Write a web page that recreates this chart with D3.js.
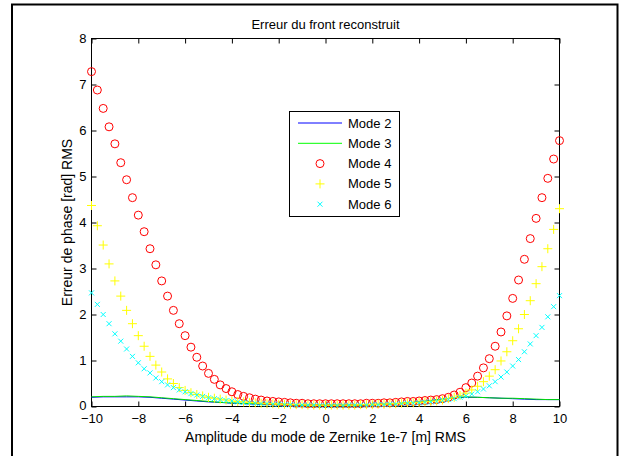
<!DOCTYPE html>
<html>
<head>
<meta charset="utf-8">
<script src="https://cdn.jsdelivr.net/npm/d3@7"></script>
<style>
  body { margin: 0; background: #fff; }
  svg { display: block; font-family: "Liberation Sans", Arial, sans-serif; }
</style>
</head>
<body>
<script>
// Amplitudes (markers, step 0.25)
const xMarks = [
  -10, -9.75, -9.5, -9.25, -9, -8.75, -8.5, -8.25, -8, -7.75, -7.5, -7.25, -7, -6.75, -6.5, -6.25,
  -6, -5.75, -5.5, -5.25, -5, -4.75, -4.5, -4.25, -4, -3.75, -3.5, -3.25, -3, -2.75, -2.5, -2.25,
  -2, -1.75, -1.5, -1.25, -1, -0.75, -0.5, -0.25, 0, 0.25, 0.5, 0.75, 1, 1.25, 1.5, 1.75,
  2, 2.25, 2.5, 2.75, 3, 3.25, 3.5, 3.75, 4, 4.25, 4.5, 4.75, 5, 5.25, 5.5, 5.75,
  6, 6.25, 6.5, 6.75, 7, 7.25, 7.5, 7.75, 8, 8.25, 8.5, 8.75, 9, 9.25, 9.5, 9.75, 10
];

// Amplitudes (lines, step 0.5)
const xLines = [
  -10, -9.5, -9, -8.5, -8, -7.5, -7, -6.5, -6, -5.5, -5, -4.5, -4, -3.5, -3, -2.5, -2, -1.5, -1, -0.5,
  0, 0.5, 1, 1.5, 2, 2.5, 3, 3.5, 4, 4.5, 5, 5.5, 6, 6.5, 7, 7.5, 8, 8.5, 9, 9.5, 10
];

const mode2 = [
  0.20, 0.21, 0.21, 0.21, 0.21, 0.20, 0.18, 0.16, 0.14, 0.12, 0.10, 0.09, 0.07, 0.06, 0.05, 0.05, 0.04, 0.03, 0.03, 0.03,
  0.03, 0.03, 0.03, 0.03, 0.04, 0.05, 0.06, 0.08, 0.10, 0.13, 0.16, 0.19, 0.20, 0.20, 0.19, 0.18, 0.17, 0.16, 0.15, 0.15, 0.15
];

const mode3 = [
  0.21, 0.22, 0.22, 0.23, 0.22, 0.21, 0.19, 0.17, 0.15, 0.13, 0.11, 0.09, 0.08, 0.07, 0.06, 0.05, 0.04, 0.04, 0.03, 0.03,
  0.03, 0.03, 0.03, 0.03, 0.04, 0.05, 0.06, 0.08, 0.10, 0.13, 0.16, 0.19, 0.21, 0.20, 0.19, 0.18, 0.18, 0.17, 0.16, 0.15, 0.15
];

const mode4 = [
  7.28, 6.88, 6.48, 6.08, 5.71, 5.30, 4.93, 4.54, 4.16, 3.80, 3.43, 3.08, 2.73, 2.40, 2.09, 1.80,
  1.54, 1.29, 1.07, 0.88, 0.72, 0.59, 0.47, 0.39, 0.32, 0.26, 0.22, 0.19, 0.16, 0.14, 0.12, 0.11,
  0.10, 0.09, 0.08, 0.07, 0.07, 0.06, 0.06, 0.06, 0.06, 0.06, 0.06, 0.06, 0.06, 0.06, 0.06, 0.07,
  0.07, 0.07, 0.08, 0.08, 0.09, 0.10, 0.11, 0.11, 0.12, 0.13, 0.14, 0.15, 0.17, 0.20, 0.25, 0.31,
  0.41, 0.51, 0.66, 0.84, 1.04, 1.31, 1.62, 1.97, 2.35, 2.75, 3.20, 3.65, 4.09, 4.54, 4.96, 5.38, 5.78
];

const mode5 = [
  4.37, 3.93, 3.51, 3.10, 2.73, 2.40, 2.09, 1.80, 1.54, 1.31, 1.09, 0.90, 0.75, 0.60, 0.50, 0.41,
  0.35, 0.30, 0.26, 0.23, 0.20, 0.18, 0.16, 0.14, 0.12, 0.11, 0.10, 0.09, 0.08, 0.07, 0.06, 0.06,
  0.05, 0.05, 0.04, 0.04, 0.04, 0.03, 0.03, 0.03, 0.03, 0.03, 0.03, 0.03, 0.03, 0.03, 0.04, 0.04,
  0.04, 0.05, 0.05, 0.06, 0.06, 0.07, 0.08, 0.08, 0.09, 0.10, 0.11, 0.12, 0.14, 0.17, 0.20, 0.24,
  0.29, 0.36, 0.44, 0.54, 0.66, 0.80, 0.99, 1.19, 1.43, 1.69, 2.00, 2.30, 2.67, 3.04, 3.43, 3.85, 4.30
];

const mode6 = [
  2.47, 2.22, 2.00, 1.80, 1.58, 1.42, 1.25, 1.09, 0.95, 0.82, 0.73, 0.62, 0.54, 0.47, 0.41, 0.36,
  0.32, 0.28, 0.25, 0.22, 0.19, 0.17, 0.15, 0.13, 0.12, 0.10, 0.09, 0.08, 0.07, 0.06, 0.06, 0.05,
  0.05, 0.04, 0.04, 0.03, 0.03, 0.03, 0.03, 0.02, 0.02, 0.02, 0.02, 0.02, 0.03, 0.03, 0.03, 0.03,
  0.04, 0.04, 0.04, 0.05, 0.05, 0.06, 0.07, 0.07, 0.08, 0.09, 0.10, 0.11, 0.13, 0.15, 0.17, 0.20,
  0.23, 0.27, 0.32, 0.38, 0.45, 0.54, 0.64, 0.75, 0.88, 1.02, 1.19, 1.36, 1.54, 1.72, 1.95, 2.17, 2.41
];

const xTicks = [-10, -8, -6, -4, -2, 0, 2, 4, 6, 8, 10];
const yTicks = [0, 1, 2, 3, 4, 5, 6, 7, 8];
const legendLabels = ["Mode 2", "Mode 3", "Mode 4", "Mode 5", "Mode 6"];

//     Parameters
const w = 620;
const h = 456;
const plotLeft = 91.5, plotRight = 559.5, plotTop = 38.5, plotBottom = 406.5;

const svg = d3.select("body").append("svg").attr("width", w).attr("height", h);

//     Figure frame
svg.append("rect")
  .attr("x", 12).attr("y", 4.5)
  .attr("width", 605.5).attr("height", 470)
  .attr("fill", "none").attr("stroke", "#000").attr("stroke-width", 2);

//     Scales
const scaleX = d3.scaleLinear().domain([-10, 10]).range([plotLeft, plotRight]);
const scaleY = d3.scaleLinear().domain([0, 8]).range([plotBottom, plotTop]);

//     Axes (inside ticks on all sides)
const axisStyle = (g) => {
  g.select(".domain").remove();
  g.selectAll("line").attr("stroke", "#000");
  g.selectAll("text").attr("fill", "#000").style("font-size", "13px");
};

svg.append("g")
  .attr("transform", "translate(0," + plotBottom + ")")
  .call(d3.axisBottom(scaleX).tickValues(xTicks).tickSize(-5).tickPadding(7).tickFormat(d3.format("d")))
  .call(axisStyle);

svg.append("g")
  .attr("transform", "translate(0," + plotTop + ")")
  .call(d3.axisTop(scaleX).tickValues(xTicks).tickSize(-5).tickFormat(""))
  .call(axisStyle);

svg.append("g")
  .attr("transform", "translate(" + plotLeft + ",0)")
  .call(d3.axisLeft(scaleY).tickValues(yTicks).tickSize(-5).tickPadding(5).tickFormat(d3.format("d")))
  .call(axisStyle);

svg.append("g")
  .attr("transform", "translate(" + plotRight + ",0)")
  .call(d3.axisRight(scaleY).tickValues(yTicks).tickSize(-5).tickFormat(""))
  .call(axisStyle);

// nudge the "0" label up a little, as in the original
svg.selectAll("g")
  .filter(function () { return this.getAttribute("transform") === "translate(" + plotLeft + ",0)"; })
  .selectAll(".tick text")
  .filter((d) => d === 0)
  .attr("dy", "0.2em");

svg.append("rect")
  .attr("x", plotLeft).attr("y", plotTop)
  .attr("width", plotRight - plotLeft).attr("height", plotBottom - plotTop)
  .attr("fill", "none").attr("stroke", "#000");

//     Lines
const line = (ys) =>
  d3.line().x((d, i) => scaleX(xLines[i])).y((d) => scaleY(d))(ys);

svg.append("path").attr("d", line(mode2))
  .attr("fill", "none").attr("stroke", "#0000ff").attr("stroke-width", 1);
svg.append("path").attr("d", line(mode3))
  .attr("fill", "none").attr("stroke", "#00e000").attr("stroke-width", 1);

//     Markers
const circleSym = "M4,0A4,4,0,1,1,-4,0A4,4,0,1,1,4,0Z";
const plusSym = "M-4.5,0H4.5M0,-4.5V4.5";
const crossSym = "M-2.5,-2.5L2.5,2.5M-2.5,2.5L2.5,-2.5";

const markers = [
  { data: mode4, sym: circleSym, color: "#ff0000" },
  { data: mode5, sym: plusSym, color: "#ffff00" },
  { data: mode6, sym: crossSym, color: "#00ffff" },
];

markers.forEach((m) => {
  svg.append("g")
    .selectAll("path")
    .data(m.data)
    .enter()
    .append("path")
    .attr("transform", (d, i) => "translate(" + scaleX(xMarks[i]) + "," + scaleY(d) + ")")
    .attr("d", m.sym)
    .attr("fill", "none")
    .attr("stroke", m.color)
    .attr("stroke-width", 1);
});

//     Legend
const legend = svg.append("g");
legend.append("rect")
  .attr("x", 289.5).attr("y", 111.5)
  .attr("width", 110).attr("height", 105)
  .attr("fill", "#fff").attr("stroke", "#000");

const legendY = (i) => 123 + i * 20.3;
const legendColors = ["#0000ff", "#00ff00"];

legendLabels.forEach((lab, i) => {
  const y = legendY(i);
  if (i < 2) {
    legend.append("line")
      .attr("x1", 298).attr("x2", 342).attr("y1", y).attr("y2", y)
      .attr("stroke", legendColors[i]);
  } else {
    const m = markers[i - 2];
    legend.append("path")
      .attr("transform", "translate(320," + y + ")")
      .attr("d", m.sym).attr("fill", "none").attr("stroke", m.color);
  }
  legend.append("text")
    .attr("x", 348).attr("y", y).attr("dy", "0.35em")
    .style("font-size", "13px")
    .text(lab);
});

//     Title and labels
svg.append("text")
  .attr("x", (plotLeft + plotRight) / 2).attr("y", 29)
  .attr("text-anchor", "middle").style("font-size", "13px")
  .text("Erreur du front reconstruit");

svg.append("text")
  .attr("x", (plotLeft + plotRight) / 2).attr("y", 442)
  .attr("text-anchor", "middle").style("font-size", "14px")
  .text("Amplitude du mode de Zernike 1e-7 [m] RMS");

svg.append("text")
  .attr("transform", "translate(72," + (plotTop + plotBottom) / 2 + ") rotate(-90)")
  .attr("text-anchor", "middle").style("font-size", "14px")
  .text("Erreur de phase [rad] RMS");
</script>
</body>
</html>
